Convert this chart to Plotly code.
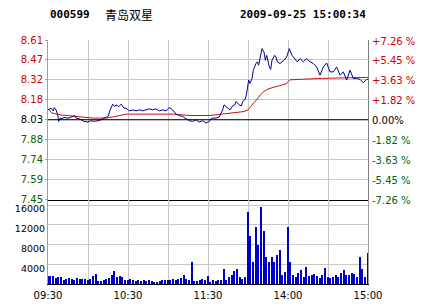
import plotly.graph_objects as go

# ---------------- data ----------------
prev_close = 8.03
pct_levels = [7.26, 5.45, 3.63, 1.82, 0.0, -1.82, -3.63, -5.45, -7.26]
price_labels = ["8.61", "8.47", "8.32", "8.18", "8.03", "7.88", "7.74", "7.59", "7.45"]
pct_labels = ["+7.26 %", "+5.45 %", "+3.63 %", "+1.82 %", "0.00%", "-1.82 %", "-3.63 %", "-5.45 %", "-7.26 %"]

# minutes since 09:30 (lunch break removed, 240 = 15:00)
price_minutes = [0, 2.3, 4, 4.7, 6, 7.3, 8, 9, 10.5, 12, 15, 17, 20, 21, 23.5, 25, 27, 30, 32, 35, 37, 40,
                 42, 45, 46.5, 48.5, 50, 51, 53, 55, 57, 58.5, 61, 63.5, 66, 68.5, 71, 73.5, 76, 78.5, 81,
                 83.5, 86, 88.5, 91, 93.5, 96, 98.5, 101, 103.5, 106, 108.5, 111, 113.5, 116, 118.5, 121,
                 122, 123.5, 126, 128.5, 131, 132, 133.5, 135, 136.5, 138, 140, 141, 142, 143.5, 145, 146,
                 148, 149, 150.5, 151.5, 153, 154, 156, 157, 158, 159, 160.5, 162, 163, 164, 166, 167, 168,
                 170, 171, 172, 174, 175.5, 177, 179, 181, 183, 185, 187, 189, 191.5, 194, 196.5, 199,
                 201.5, 204, 206.5, 209, 211.5, 214, 216.5, 219, 221.5, 224, 226.5, 229, 231.5, 234,
                 236.5, 239, 240]
prices = [8.102, 8.115, 8.095, 8.119, 8.102, 8.066, 8.018, 8.042, 8.037, 8.047, 8.042, 8.047, 8.061, 8.042,
          8.037, 8.030, 8.018, 8.013, 8.023, 8.018, 8.023, 8.030, 8.042, 8.054, 8.100, 8.144, 8.126, 8.139,
          8.126, 8.144, 8.115, 8.115, 8.095, 8.102, 8.095, 8.102, 8.095, 8.102, 8.110, 8.102, 8.110, 8.095,
          8.102, 8.095, 8.119, 8.102, 8.071, 8.061, 8.054, 8.037, 8.023, 8.018, 8.030, 8.013, 8.023, 8.006,
          8.018, 8.035, 8.042, 8.042, 8.050, 8.102, 8.139, 8.126, 8.115, 8.102, 8.126, 8.139, 8.163, 8.151,
          8.139, 8.131, 8.163, 8.180, 8.224, 8.320, 8.296, 8.332, 8.392, 8.441, 8.453, 8.429, 8.489, 8.550,
          8.525, 8.465, 8.501, 8.416, 8.398, 8.465, 8.501, 8.489, 8.453, 8.441, 8.453, 8.465, 8.489, 8.550,
          8.501, 8.477, 8.453, 8.477, 8.453, 8.477, 8.453, 8.441, 8.416, 8.356, 8.416, 8.445, 8.380, 8.380,
          8.416, 8.356, 8.380, 8.320, 8.392, 8.332, 8.332, 8.325, 8.300, 8.325, 8.325]

avg_minutes = [0, 3, 9, 16.5, 26.5, 34, 44, 48, 54, 59, 94, 99, 106, 121.5, 126, 133.5, 141, 147, 150,
               154, 157.5, 161, 165, 169.5, 174, 178.5, 181.5, 189, 204, 240]
avg_prices = [8.110, 8.079, 8.066, 8.059, 8.050, 8.042, 8.042, 8.050, 8.064, 8.071, 8.071, 8.066, 8.061,
              8.061, 8.066, 8.074, 8.079, 8.090, 8.102, 8.153, 8.190, 8.230, 8.255, 8.268, 8.280, 8.292,
              8.322, 8.327, 8.332, 8.340]

vol_minutes = list(range(0, 241, 2))
volumes = [1700, 1700, 1700, 1350, 1600, 1550, 880, 1100, 1350, 1150, 900, 1350, 1150, 1200, 1200, 900,
           1200, 1750, 2100, 800, 700, 1000, 1200, 1350, 1900, 2700, 1550, 1750, 1550, 950, 900, 1100,
           900, 700, 1000, 750, 950, 750, 1000, 800, 550, 600, 700, 1000, 950, 900, 1000, 1150, 1000,
           1200, 1350, 1900, 1100, 950, 4500, 750, 800, 1000, 1100, 950,
           1800, 540, 880, 680, 880, 880, 3100, 880, 1550, 1900, 2700, 3100, 1550, 1200, 1550, 14600,
           9900, 4600, 11700, 8000, 15700, 10800, 5600, 4600, 5600, 4600, 5900, 7000, 2000, 2600, 11700,
           4600, 1900, 1550, 2400, 2900, 1550, 3600, 1750, 2000, 2200, 1750, 1350, 1900, 3400, 1550, 1350,
           1550, 1900, 1550, 2400, 2900, 1900, 2000, 2400, 2200, 1550, 5600, 3200, 1550, 6300]

time_tickvals = [0, 30, 60, 90, 120, 150, 180, 210, 240]
time_ticktext = ["09:30", "", "10:30", "", "11:30", "", "14:00", "", "15:00"]
vol_tickvals = [4000, 8000, 12000, 16000]
vol_ticktext = ["4000", "8000", "12000", "16000"]

title_code = "000599"
title_name = "青岛双星"
title_time = "2009-09-25 15:00:34"

# ---------------- figure ----------------
RED = "#CC0000"
GREEN = "#006400"
GRID = "#C8C8C8"
FONT = "DejaVu Sans"

price_pos = [prev_close * (1 + p / 100) for p in pct_levels]
lo, hi = price_pos[-1], price_pos[0]


def colour(p):
    return RED if p > 0 else (GREEN if p < 0 else "#000000")


left_text = [f'<span style="color:{colour(p)}">{t}</span>' for p, t in zip(pct_levels, price_labels)]
right_text = [f'<span style="color:{colour(p)}">{t}</span>' for p, t in zip(pct_levels, pct_labels)]

split = (284 - 199.5) / 244.0
vol_top = 16000 * (284 - 199.5) / (284 - 205)

fig = go.Figure()
fig.add_trace(go.Scatter(x=avg_minutes, y=avg_prices, mode="lines", line=dict(color="#CC1111", width=1),
                         xaxis="x", yaxis="y", hoverinfo="skip"))
fig.add_trace(go.Scatter(x=price_minutes, y=prices, mode="lines", line=dict(color="#00008F", width=1),
                         xaxis="x", yaxis="y", hoverinfo="skip"))
fig.add_trace(go.Scatter(x=[0, 240], y=[prev_close, prev_close], mode="lines",
                         line=dict(color="#000000", width=1.2), xaxis="x", yaxis="y2", hoverinfo="skip"))
fig.add_trace(go.Bar(x=vol_minutes, y=volumes, width=1.1, marker=dict(color="#0000CC", line=dict(width=0)),
                     xaxis="x2", yaxis="y3", hoverinfo="skip"))

fig.update_layout(
    template="none",
    width=423, height=308,
    margin=dict(l=48, r=55, t=40, b=24, autoexpand=False),
    paper_bgcolor="white", plot_bgcolor="white",
    showlegend=False,
    bargap=0,
    font=dict(family=FONT, size=10, color="#000000"),
    xaxis=dict(domain=[0, 1], anchor="y", range=[0, 240], tickvals=time_tickvals, showticklabels=False,
               showgrid=True, gridcolor=GRID, gridwidth=1, zeroline=False, automargin=False,
               showline=True, linecolor="#000000", linewidth=1.2, ticks=""),
    yaxis=dict(domain=[split, 1], range=[lo, hi], tickvals=price_pos, ticktext=left_text, automargin=False,
               showgrid=True, gridcolor=GRID, zeroline=False, showline=True, linecolor="#A0A0A0",
               ticks="outside", ticklen=2, tickcolor="#A0A0A0", tickfont=dict(size=10, family=FONT),
               ticklabelshift=0),
    yaxis2=dict(overlaying="y", side="right", anchor="x", range=[lo, hi], tickvals=price_pos,
                ticktext=right_text, showgrid=False, zeroline=False, showline=True, linecolor="#808080",
                automargin=False, ticks="", ticklabelstandoff=1, ticklabelshift=1,
                tickfont=dict(size=10, family=FONT)),
    xaxis2=dict(domain=[0, 1], anchor="y3", range=[0, 240], tickvals=time_tickvals, ticktext=time_ticktext,
                showgrid=True, gridcolor=GRID, zeroline=False, showline=True, linecolor="#000000",
                automargin=False, ticks="", ticklabelstandoff=2, tickfont=dict(size=10, family=FONT)),
    yaxis3=dict(domain=[0, split], anchor="x2", range=[0, vol_top], tickvals=vol_tickvals,
                ticktext=vol_ticktext, showgrid=True, gridcolor=GRID, zeroline=False, showline=True,
                automargin=False, mirror=True, linecolor="#A0A0A0", ticks="", ticklabelshift=4,
                tickfont=dict(size=9.5, family=FONT)),
)

fig.add_annotation(xref="paper", yref="paper", x=0, y=(284 - 14) / 244.0, xanchor="left", yanchor="middle",
                   text=f"<b>{title_code}</b>", showarrow=False,
                   font=dict(family="DejaVu Sans Mono", size=11, color="#000000"))
fig.add_annotation(xref="paper", yref="paper", x=(103 - 48) / 320.0, y=(284 - 14) / 244.0, xanchor="left",
                   yanchor="middle", text=title_name, showarrow=False,
                   font=dict(family="Noto Sans CJK SC", size=12, color="#000000"))
fig.add_annotation(xref="paper", yref="paper", x=1, y=(284 - 14) / 244.0, xanchor="right", yanchor="middle",
                   text=f"<b>{title_time}</b>", showarrow=False,
                   font=dict(family="DejaVu Sans Mono", size=11, color="#000000"))

fig.write_html("out.html")
